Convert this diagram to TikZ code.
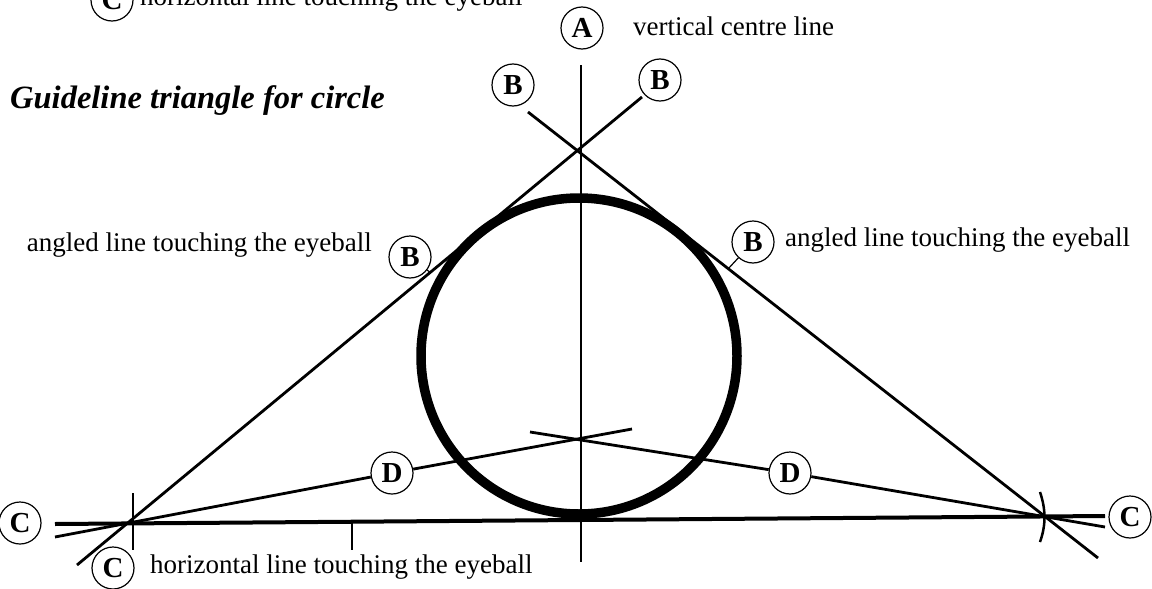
\documentclass[tikz,border=0pt]{standalone}
\usepackage{fontspec}
\setmainfont{Liberation Serif}
\begin{document}
\begin{tikzpicture}[x=1pt,y=-1pt,
  lab/.style={draw,circle,line width=1.2pt,minimum size=42pt,inner sep=0pt,font=\fontsize{29}{29}\selectfont\bfseries},
  txt/.style={font=\fontsize{27}{27}\selectfont,inner sep=0pt},
  thin/.style={line width=2.8pt},
  tick/.style={line width=1.2pt}]
\useasboundingbox (0,0) rectangle (1152,589);
\clip (0,0) rectangle (1152,589);
% coordinates
\coordinate (L) at (133,522);
\coordinate (R) at (1042,517);
\coordinate (Atop) at (581,65);
\coordinate (Abot) at (581,562);
\coordinate (B1s) at (77,565);
\coordinate (B1e) at (642,97);
\coordinate (B2s) at (528,112);
\coordinate (B2e) at (1098,558);
\coordinate (Hs) at (55,524);
\coordinate (He) at (1105,516);
\coordinate (D1s) at (55,537);
\coordinate (D1e) at (632,429);
\coordinate (D2s) at (530,432);
\coordinate (D2e) at (1105,527);
% circle
\node[draw,circle,line width=9.5pt,minimum size=316pt,inner sep=0pt] (eye) at (579,356) {};
% lines
\draw[line width=2.5pt] (Atop) -- (Abot);
\draw[thin] (B1s) -- (B1e);
\draw[thin] (B2s) -- (B2e);
\draw[line width=4pt] (Hs) -- (He);
% labels
\node[lab] (Atag) at (582,28) {A};
\node[txt,anchor=west] (Atxt) at (633,26) {vertical centre line};
\node[lab] (Btl) at (513,85) {B};
\node[lab] (Btr) at (660,80) {B};
\node[lab] (Bml) at (410,257) {B};
\node[lab] (Bmr) at (753,242) {B};
\node[txt,anchor=east] (Bmltxt) at (372,245) {angled line touching the eyeball};
\node[txt,anchor=west] (Bmrtxt) at (785,240) {angled line touching the eyeball};
\node[lab] (Cl) at (20,523) {C};
\node[lab] (Cb) at (113,568) {C};
\node[lab] (Cr) at (1130,517) {C};
\node[lab] (Ct) at (112,0) {C};
\node[txt,anchor=west] (Cttxt) at (140,-1) {horizontal line touching the eyeball};
\node[txt,anchor=west] (Cbtxt) at (150,567) {horizontal line touching the eyeball};
\node[font=\fontsize{32.5}{32.5}\selectfont\bfseries\itshape,anchor=west,inner sep=0pt] (title) at (10,101) {Guideline triangle for circle};
% D lines through labels
\node[lab,fill=white] (Dl) at (392,473) {D};
\node[lab,fill=white] (Dr) at (790,473) {D};
\draw[thin] (D1s) -- (Dl);
\draw[thin] (Dl) -- (D1e);
\draw[thin] (D2s) -- (Dr);
\draw[thin] (Dr) -- (D2e);
% ticks
\coordinate (Tl) at (431,273);
\coordinate (Tr) at (728,269);
\coordinate (Th1) at (352,520);
\coordinate (Th2) at (352,550);
\draw[tick] (Bml) -- (Tl);
\draw[tick] (Bmr) -- (Tr);
\draw[tick] (Th1) -- (Th2);
\draw[line width=2.5pt] (133,493) -- (133,550);
\draw[line width=2.5pt] (1040,492) .. controls (1046,510) and (1046,525) .. (1040,542);
\end{tikzpicture}
\end{document}
